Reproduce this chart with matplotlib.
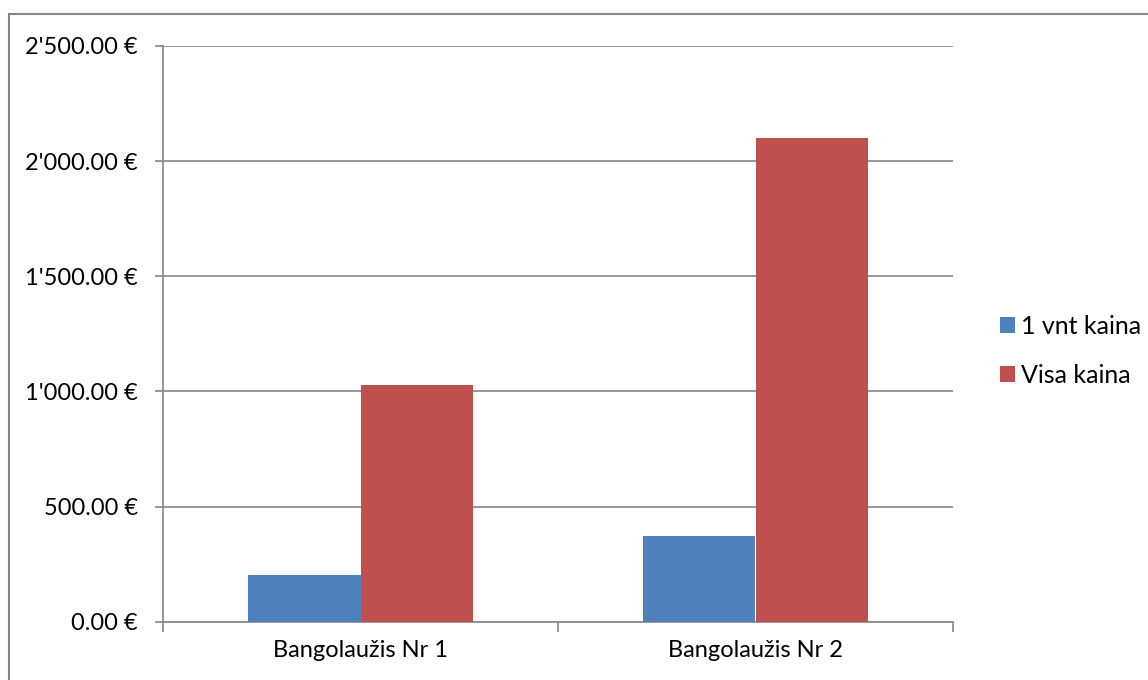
import matplotlib

matplotlib.use("Agg")
import matplotlib.pyplot as plt
import numpy as np
from matplotlib.lines import Line2D
from matplotlib.patches import Patch
from matplotlib.ticker import FuncFormatter, MultipleLocator

categories = ["Bangolaužis Nr 1", "Bangolaužis Nr 2"]
series_names = ["1 vnt kaina", "Visa kaina"]
unit_price = [203, 374]
total_price = [1030, 2102]

BLUE = "#4F81BD"
RED = "#C0504D"
GRID = "#868686"

plt.rcParams["font.family"] = ["Lato", "DejaVu Sans"]

fig = plt.figure(figsize=(11.48, 6.80), dpi=100)
ax = fig.add_axes([163 / 1148, 1 - 621.7 / 680, 790 / 1148, 575.7 / 680])

x = np.arange(len(categories))
w = 1 / 3.5  # excel-style 150% gap width
ax.bar(x - w / 2, unit_price, width=w, color=BLUE, label=series_names[0], zorder=3)
ax.bar(x + w / 2, total_price, width=w, color=RED, label=series_names[1], zorder=3)

ax.set_xlim(-0.5, len(categories) - 0.5)
ax.set_ylim(0, 2500)
ax.yaxis.set_major_locator(MultipleLocator(500))


def euro(v, _pos):
    s = f"{v:,.2f}".replace(",", "'")
    return f"{s} €"


ax.yaxis.set_major_formatter(FuncFormatter(euro))
ax.yaxis.grid(True, color=GRID, linewidth=1.2, zorder=0)

ax.set_xticks(x)
ax.set_xticklabels(categories)
# category boundary ticks on the x axis
ax.set_xticks(np.arange(-0.5, len(categories)), minor=True)
ax.tick_params(axis="x", which="major", length=0, pad=13, labelsize=17)
ax.tick_params(axis="x", which="minor", length=7, color=GRID, width=1.2)
ax.tick_params(axis="y", length=6, color=GRID, width=1.2, pad=12, labelsize=17)

for side in ["top", "right"]:
    ax.spines[side].set_visible(False)
for side in ["left", "bottom"]:
    ax.spines[side].set_color(GRID)
    ax.spines[side].set_linewidth(1.2)

handles = [Patch(facecolor=BLUE, label=series_names[0]),
           Patch(facecolor=RED, label=series_names[1])]
fig.legend(handles=handles, loc="center left", bbox_to_anchor=(987 / 1148, 1 - 351 / 680),
           frameon=False, fontsize=18, handlelength=0.6, handleheight=0.6,
           handletextpad=0.25, labelspacing=1.05, borderpad=0)

# chart area border (left and top edges only)
bx, by = 8.5 / 1148, 1 - 13.5 / 680
fig.add_artist(Line2D([bx, bx], [0, by], transform=fig.transFigure, color=GRID, linewidth=1.5))
fig.add_artist(Line2D([bx, 1], [by, by], transform=fig.transFigure, color=GRID, linewidth=1.5))

fig.savefig("out.png", dpi=100)
